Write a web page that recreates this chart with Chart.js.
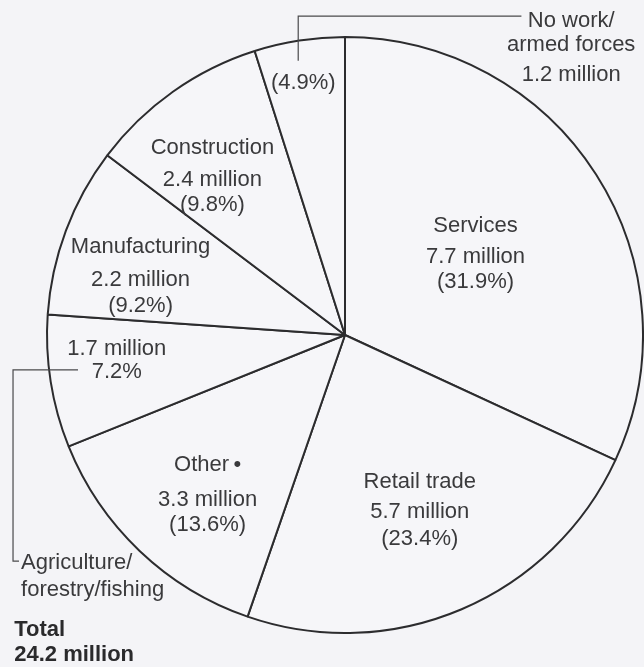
<!DOCTYPE html>
<html>
<head>
<meta charset="utf-8">
<script src="https://cdn.jsdelivr.net/npm/chart.js@4.4.1/dist/chart.umd.min.js"></script>
<style>
  html, body { margin: 0; padding: 0; background: #f4f4f7; }
  #wrap { width: 644px; height: 667px; position: relative; }
  canvas { display: block; }
</style>
</head>
<body>
<div id="wrap"><canvas id="pie" width="644" height="667"></canvas></div>
<script>
// Employment by sector, clockwise from 12 o'clock
const categories = ['Services', 'Retail trade', 'Other', 'Agriculture/forestry/fishing',
                    'Manufacturing', 'Construction', 'No work/armed forces'];
const millions = [7.7, 5.7, 3.3, 1.7, 2.2, 2.4, 1.2];
const shares   = [31.9, 23.4, 13.6, 7.2, 9.2, 9.8, 4.9];
const totalMillions = 24.2;

const INK = '#3a3a3c';
const FONT = '22px "Liberation Sans", Arial, sans-serif';
const BOLD = 'bold 22px "Liberation Sans", Arial, sans-serif';

const pct = i => '(' + shares[i].toFixed(1) + '%)';
const mil = i => millions[i].toFixed(1) + ' million';

// Text blocks placed relative to the pie centre, in units of the radius.
// Each line: [text, dy from first baseline in px]
const blocks = [
  { fx: 0.438,  fy: -0.344, align: 'center', lines: [[categories[0], 0], [mil(0), 31], [pct(0), 56]] },
  { fx: 0.251,  fy: 0.512,  align: 'center', lines: [[categories[1], 0], [mil(1), 30], [pct(1), 57]] },
  { fx: -0.461, fy: 0.458,  align: 'center', lines: [['Other\u2009\u2022', 0], [mil(2), 35], [pct(2), 60]] },
  { fx: -0.766, fy: 0.067,  align: 'center', lines: [[mil(3), 0], [shares[3].toFixed(1) + '%', 23]] },
  { fx: -0.686, fy: -0.274, align: 'center', lines: [[categories[4], 0], [mil(4), 33], [pct(4), 59]] },
  { fx: -0.445, fy: -0.609, align: 'center', lines: [[categories[5], 0], [mil(5), 32], [pct(5), 57]] },
  { fx: -0.140, fy: -0.826, align: 'center', lines: [[pct(6), 0]] },
  // outside labels
  { fx: 0.759,  fy: -1.033, align: 'center', lines: [['No work/', 0], ['armed forces', 24], [mil(6), 54]] },
  { fx: -1.087, fy: 0.786,  align: 'left',   lines: [['Agriculture/', 0], ['forestry/fishing', 27]] },
  { fx: -1.110, fy: 1.010,  align: 'left', bold: true,
    lines: [['Total', 0], [totalMillions.toFixed(1) + ' million', 25]] }
];

// Leader lines (radius units)
const leaders = [
  [[-0.157, -0.920], [-0.157, -1.070], [0.592, -1.070]],
  [[-0.896, 0.117], [-1.114, 0.117], [-1.114, 0.759], [-1.094, 0.759]]
];

const annotations = {
  id: 'annotations',
  afterDraw(chart) {
    const arc = chart.getDatasetMeta(0).data[0];
    const cx = arc.x, cy = arc.y, r = arc.outerRadius;
    const ctx = chart.ctx;
    ctx.save();
    ctx.strokeStyle = '#4a4a4c';
    ctx.lineWidth = 1.2;
    leaders.forEach(pts => {
      ctx.beginPath();
      pts.forEach(([fx, fy], k) => {
        const x = cx + fx * r, y = cy + fy * r;
        if (k === 0) ctx.moveTo(x, y); else ctx.lineTo(x, y);
      });
      ctx.stroke();
    });
    ctx.fillStyle = INK;
    ctx.textBaseline = 'alphabetic';
    blocks.forEach(b => {
      ctx.font = b.bold ? BOLD : FONT;
      ctx.fillStyle = b.bold ? '#2a2a2c' : INK;
      ctx.textAlign = b.align;
      const x = cx + b.fx * r, y0 = cy + b.fy * r;
      b.lines.forEach(([t, dy]) => ctx.fillText(t, x, y0 + dy));
    });
    ctx.restore();
  }
};

new Chart(document.getElementById('pie'), {
  type: 'pie',
  data: {
    labels: categories,
    datasets: [{
      data: shares,
      backgroundColor: '#f6f6f9',
      borderColor: '#2c2c2e',
      borderWidth: 2,
      hoverOffset: 0,
      offset: 0
    }]
  },
  options: {
    responsive: false,
    animation: false,
    rotation: 0,
    layout: { padding: { left: 46, right: 0, top: 36, bottom: 33 } },
    plugins: {
      legend: { display: false },
      tooltip: { enabled: false },
      title: { display: false }
    },
    events: []
  },
  plugins: [annotations]
});
</script>
</body>
</html>
